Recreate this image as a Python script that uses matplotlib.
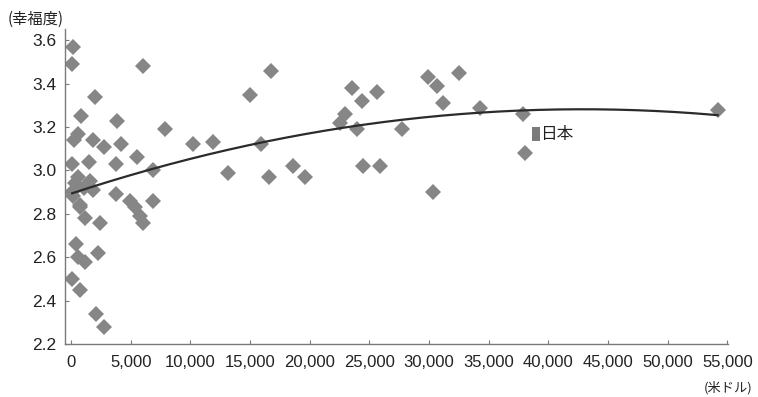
import numpy as np
import matplotlib
matplotlib.use("Agg")
import matplotlib.pyplot as plt

# Per-capita GDP (US dollars) and average happiness score by country
gdp = [
    200, 100, 2000, 840, 3860, 7900, 590, 250, 1850, 2770,
    4200, 6040, 5540, 100, 1510, 3780, 6880, 340, 1590, 1850,
    100, 3780, 4950, 5370, 5790, 6040, 6880, 755, 1170, 2430,
    420, 2270, 590, 1170, 100, 755, 2100, 2770, 590, 1090,
    170, 750,
    10230, 11910, 15020, 16780, 15940, 13170, 16610, 18620, 19630, 23570,
    24410, 25670, 22990, 22570, 23990, 24500, 25920, 27770, 29950, 30700,
    32470, 31210, 34230, 30370, 37840, 38000, 54190,
]
happiness = [
    3.57, 3.49, 3.34, 3.25, 3.23, 3.19, 3.17, 3.14, 3.14, 3.11,
    3.12, 3.48, 3.06, 3.03, 3.04, 3.03, 3.00, 2.94, 2.95, 2.91,
    2.90, 2.89, 2.86, 2.83, 2.79, 2.76, 2.86, 2.83, 2.78, 2.76,
    2.66, 2.62, 2.60, 2.58, 2.50, 2.45, 2.34, 2.28, 2.97, 2.92,
    2.88, 2.84,
    3.12, 3.13, 3.35, 3.46, 3.12, 2.99, 2.97, 3.02, 2.97, 3.38,
    3.32, 3.36, 3.26, 3.22, 3.19, 3.02, 3.02, 3.19, 3.43, 3.39,
    3.45, 3.31, 3.29, 2.90, 3.26, 3.08, 3.28,
]

# Japan is highlighted separately
japan_gdp = 38930
japan_happiness = 3.168
japan_label = "日本"

x_ticks = [0, 5000, 10000, 15000, 20000, 25000, 30000, 35000, 40000, 45000, 50000, 55000]
x_tick_labels = ["0", "5,000", "10,000", "15,000", "20,000", "25,000", "30,000",
                 "35,000", "40,000", "45,000", "50,000", "55,000"]
y_ticks = [2.2, 2.4, 2.6, 2.8, 3.0, 3.2, 3.4, 3.6]
y_tick_labels = ["2.2", "2.4", "2.6", "2.8", "3.0", "3.2", "3.4", "3.6"]

y_unit = "(幸福度)"
x_unit = "(米ドル)"

plt.rcParams["font.family"] = ["Liberation Sans", "DejaVu Sans"]
cjk = ["Noto Sans CJK JP", "DejaVu Sans"]

fig = plt.figure(figsize=(7.58, 3.97), dpi=100)
ax = fig.add_axes([65 / 758, 1 - 344 / 397, (728 - 65) / 758, (344 - 29) / 397])

ax.plot(gdp, happiness, linestyle="none", marker="D", ms=7.9,
        markerfacecolor="#868686", markeredgewidth=0, zorder=2)

# Second-order polynomial trend line over the data range
coef = np.polyfit(gdp, happiness, 2)
xs = np.linspace(min(gdp), max(gdp), 300)
ax.plot(xs, np.polyval(coef, xs), color="#2b2b2b", lw=1.6, zorder=3)

# Japan marker and label
jp_marker = [(-0.5, -0.9), (0.5, -0.9), (0.5, 0.9), (-0.5, 0.9), (-0.5, -0.9)]
ax.plot([japan_gdp], [japan_happiness], linestyle="none", marker=jp_marker,
        ms=9.4, markerfacecolor="#7a7a7a", markeredgewidth=0, zorder=4)
ax.annotate(japan_label, (japan_gdp, japan_happiness), xytext=(3, 0),
            textcoords="offset points", ha="left", va="center",
            fontsize=12, family=cjk, color="#222222")

ax.set_xlim(-500, 55050)
ax.set_ylim(2.2, 3.652)
ax.set_xticks(x_ticks)
ax.set_xticklabels(x_tick_labels)
ax.set_yticks(y_ticks)
ax.set_yticklabels(y_tick_labels)

for side in ("top", "right"):
    ax.spines[side].set_visible(False)
for side in ("left", "bottom"):
    ax.spines[side].set_color("#7a7a7a")
    ax.spines[side].set_linewidth(1.0)

ax.tick_params(axis="both", direction="in", length=3, width=0.8, color="#7a7a7a",
               labelcolor="#222222")
ax.tick_params(axis="y", pad=6, labelsize=12.5)
ax.tick_params(axis="x", pad=8, labelsize=12)

fig.text(36 / 758, 1 - 19 / 397, y_unit, ha="center", va="center",
         fontsize=11, family=cjk, color="#222222")
fig.text(728 / 758, 1 - 388 / 397, x_unit, ha="center", va="center",
         fontsize=9.5, family=cjk, color="#222222")

fig.savefig("out.png", dpi=100)
